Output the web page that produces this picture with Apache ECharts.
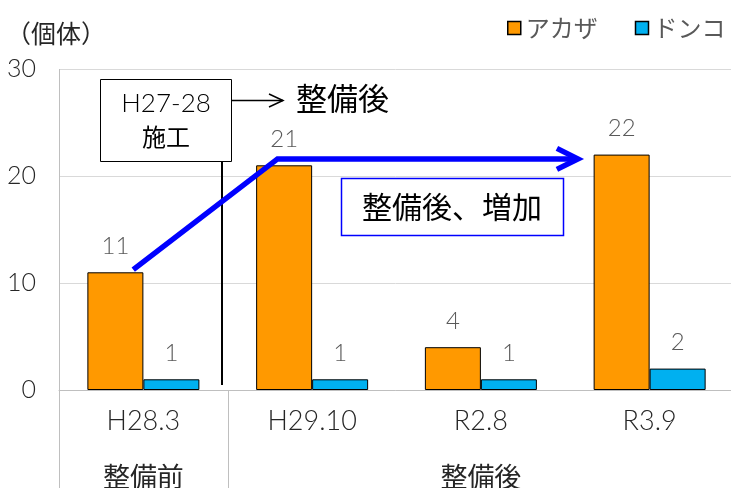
<!DOCTYPE html>
<html>
<head>
<meta charset="utf-8">
<title>アカザ・ドンコ 個体数</title>
<script src="https://cdn.jsdelivr.net/npm/echarts@6/dist/echarts.min.js"></script>
<style>
  html, body { margin: 0; padding: 0; background: #fff; }
  #chart { width: 731px; height: 488px; }
</style>
</head>
<body>
<div id="chart"></div>
<script>
// survey dates and the period each one belongs to
const categories = ['H28.3', 'H29.10', 'R2.8', 'R3.9'];
const periodLabels = ['整備前', '', '整備後', ''];

// individuals counted per survey
const akaza = [11, 21, 4, 22];
const donko = [1, 1, 1, 2];

// value axis ticks
const yMin = 0;
const yMax = 30;
const yStep = 10;

const FONT = '"Noto Sans CJK JP", "Noto Sans", sans-serif';
const NUM_FONT = 'Lato, "Noto Sans CJK JP", sans-serif';

const chart = echarts.init(document.getElementById('chart'), null, { renderer: 'canvas' });

const barLabel = {
  show: true,
  position: 'top',
  distance: 14,
  fontSize: 24,
  fontWeight: 300,
  color: '#595959',
  fontFamily: NUM_FONT
};

chart.setOption({
  animation: false,
  textStyle: { fontFamily: FONT },
  grid: { left: 59, top: 69, width: 675, height: 321, outerBoundsMode: 'none', containLabel: false },
  legend: {
    orient: 'horizontal',
    left: 507,
    top: 16,
    width: 300,
    padding: 0,
    icon: 'rect',
    itemWidth: 13,
    itemHeight: 13,
    itemGap: 37,
    itemStyle: { borderColor: '#000', borderWidth: 1.5 },
    textStyle: { fontSize: 24, color: '#595959', fontFamily: FONT },
    data: ['アカザ', 'ドンコ']
  },
  xAxis: [
    {
      type: 'category',
      data: categories,
      axisLine: { lineStyle: { color: '#bfbfbf', width: 1 } },
      axisTick: { show: false },
      axisLabel: { fontSize: 27, fontWeight: 300, color: '#262626', margin: 18, interval: 0, fontFamily: NUM_FONT }
    },
    {
      type: 'category',
      data: periodLabels,
      position: 'bottom',
      offset: 55,
      axisLine: { show: false },
      axisTick: { show: false },
      axisLabel: { fontSize: 27, color: '#262626', margin: 18, interval: 0, fontFamily: FONT }
    }
  ],
  yAxis: {
    type: 'value',
    min: yMin,
    max: yMax,
    interval: yStep,
    axisLine: { show: false },
    axisTick: { show: false },
    splitLine: { lineStyle: { color: '#d9d9d9', width: 1 } },
    axisLabel: { fontSize: 25, fontWeight: 300, color: '#262626', margin: 23, fontFamily: NUM_FONT }
  },
  series: [
    {
      name: 'アカザ',
      type: 'bar',
      data: akaza,
      barWidth: 56,
      barGap: '0%',
      itemStyle: { color: '#ff9900', borderColor: '#000', borderWidth: 1 },
      label: barLabel
    },
    {
      name: 'ドンコ',
      type: 'bar',
      data: donko,
      barWidth: 56,
      barGap: '0%',
      itemStyle: { color: '#00b0f0', borderColor: '#000', borderWidth: 1 },
      label: barLabel
    }
  ]
});

// annotation layer: positions derived from the axes
function drawAnnotations() {
  const c0 = chart.convertToPixel({ xAxisIndex: 0 }, 0);
  const c1 = chart.convertToPixel({ xAxisIndex: 0 }, 1);
  const step = c1 - c0;
  const xAt = (pos) => c0 + pos * step;        // fractional category position
  const yAt = (v) => chart.convertToPixel({ yAxisIndex: 0 }, v);
  const snap = (p) => Math.round(p) + 0.5;

  const gridLeft = snap(xAt(-0.5));
  const groupEdge = snap(xAt(0.5));
  const top = yAt(yMax);
  const base = yAt(0);
  const H = chart.getHeight();

  // blue trend arrow
  const aStart = [xAt(-0.06), yAt(11.25)];
  const aBend = [xAt(0.795), yAt(21.6)];
  const aTip = [xAt(2.575), yAt(21.6)];

  chart.setOption({
    graphic: [
      // left frame line and the group separator under the axis
      { type: 'line', silent: true, z: 50,
        shape: { x1: gridLeft, y1: top, x2: gridLeft, y2: H },
        style: { stroke: '#bfbfbf', lineWidth: 1 } },
      { type: 'line', silent: true, z: 50,
        shape: { x1: groupEdge, y1: Math.round(base) + 1, x2: groupEdge, y2: H },
        style: { stroke: '#bfbfbf', lineWidth: 1 } },

      // unit caption
      { type: 'text', silent: true, z: 50,
        style: { text: '（個体）', x: 6, y: 33, verticalAlign: 'middle',
                 font: '25px ' + FONT, fill: '#262626' } },

      // construction period box and marker line
      { type: 'line', silent: true, z: 50,
        shape: { x1: 222, y1: 161, x2: 222, y2: 385 },
        style: { stroke: '#000', lineWidth: 2 } },
      { type: 'rect', silent: true, z: 51,
        shape: { x: 100.5, y: 79.5, width: 131, height: 82 },
        style: { fill: '#fff', stroke: '#000', lineWidth: 1 } },
      { type: 'text', silent: true, z: 52,
        style: { text: 'H27-28', x: 166, y: 104, align: 'center', verticalAlign: 'middle',
                 font: '300 26px ' + NUM_FONT, fill: '#000' } },
      { type: 'text', silent: true, z: 52,
        style: { text: '施工', x: 166, y: 137, align: 'center', verticalAlign: 'middle',
                 font: '24px ' + FONT, fill: '#000' } },

      // small arrow pointing to the post-works label
      { type: 'polyline', silent: true, z: 50,
        shape: { points: [[232, 100.5], [283, 100.5]] },
        style: { stroke: '#000', lineWidth: 1.5 } },
      { type: 'polyline', silent: true, z: 50,
        shape: { points: [[269, 94], [283, 100.5], [269, 107]] },
        style: { stroke: '#000', lineWidth: 1.5, fill: null } },
      { type: 'text', silent: true, z: 50,
        style: { text: '整備後', x: 296, y: 98, verticalAlign: 'middle',
                 font: '31px ' + FONT, fill: '#000' } },

      // trend arrow
      { type: 'polyline', silent: true, z: 53,
        shape: { points: [aStart, aBend, [aTip[0] - 2, aTip[1]]] },
        style: { stroke: '#0000ff', lineWidth: 5.5, lineJoin: 'miter', fill: null } },
      { type: 'polyline', silent: true, z: 53,
        shape: { points: [[aTip[0] - 21, aTip[1] - 10.5], aTip, [aTip[0] - 21, aTip[1] + 10.5]] },
        style: { stroke: '#0000ff', lineWidth: 5.5, lineJoin: 'miter', fill: null } },

      // callout box
      { type: 'rect', silent: true, z: 51,
        shape: { x: 341.5, y: 178.5, width: 222, height: 57 },
        style: { fill: '#fff', stroke: '#0000ff', lineWidth: 1.5 } },
      { type: 'text', silent: true, z: 52,
        style: { text: '整備後、増加', x: 452, y: 207, align: 'center', verticalAlign: 'middle',
                 font: '30px ' + FONT, fill: '#000' } }
    ]
  });
}

drawAnnotations();
</script>
</body>
</html>
